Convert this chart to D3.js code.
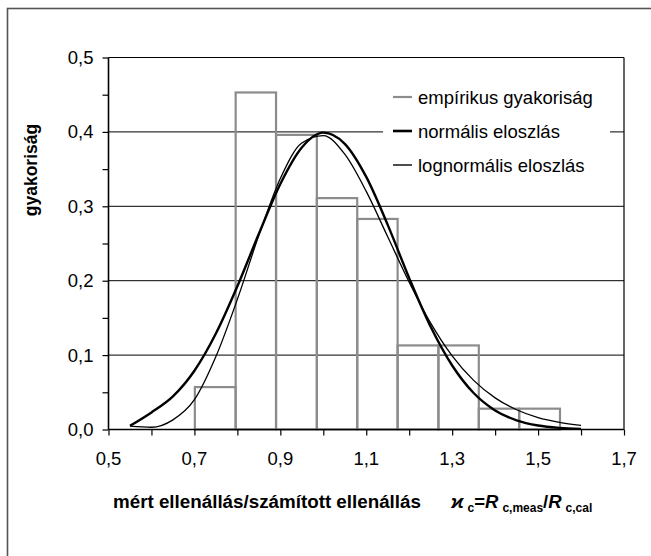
<!DOCTYPE html>
<html>
<head>
<meta charset="utf-8">
<script src="https://cdn.jsdelivr.net/npm/d3@7"></script>
<style>
  html, body { margin: 0; padding: 0; background: #fff; }
  svg { display: block; font-family: "Liberation Sans", Arial, sans-serif; }
</style>
</head>
<body>
<svg id="chart" width="651" height="556"></svg>
<script>
// Histogram bin edges and relative frequencies (empírikus gyakoriság)
const binEdges = [0.701, 0.796, 0.890, 0.985, 1.079, 1.173, 1.268, 1.362, 1.456, 1.551];
const binValues = [0.057, 0.453, 0.396, 0.311, 0.283, 0.113, 0.113, 0.028, 0.028];

// Fitted curves sampled along the x axis
const curveX = [0.55, 0.60, 0.65, 0.70, 0.75, 0.80, 0.85, 0.90, 0.95, 1.00, 1.05,
                1.10, 1.15, 1.20, 1.25, 1.30, 1.35, 1.40, 1.45, 1.50, 1.55, 1.60];
const normalY = [0.005, 0.023, 0.0445, 0.079, 0.129, 0.1925, 0.263, 0.330, 0.379, 0.399, 0.384,
                 0.3395, 0.275, 0.2035, 0.138, 0.086, 0.049, 0.0256, 0.0123, 0.0054, 0.0022, 0.0008];
const lognormalY = [0.0045, 0.003, 0.013, 0.040, 0.098, 0.175, 0.261, 0.3375, 0.385, 0.395, 0.370,
                    0.320, 0.259, 0.198, 0.143, 0.099, 0.066, 0.0425, 0.0265, 0.016, 0.0096, 0.0056];

// Axis ticks
const xTicks = [0.5, 0.6, 0.7, 0.8, 0.9, 1.0, 1.1, 1.2, 1.3, 1.4, 1.5, 1.6, 1.7];
const xTickLabels = [0.5, 0.7, 0.9, 1.1, 1.3, 1.5, 1.7];
const yTicks = [0, 0.05, 0.1, 0.15, 0.2, 0.25, 0.3, 0.35, 0.4, 0.45, 0.5];
const yTickLabels = [0, 0.1, 0.2, 0.3, 0.4, 0.5];
const gridValues = [0.1, 0.2, 0.3, 0.4, 0.5];

const legendItems = [
  { label: "empírikus gyakoriság", color: "#8c8c8c", width: 2.2 },
  { label: "normális eloszlás", color: "#000", width: 2.6 },
  { label: "lognormális eloszlás", color: "#000", width: 1.4 }
];

const svg = d3.select("#chart");
const fmt = v => d3.format(".1f")(v).replace(".", ",");

const x = d3.scaleLinear().domain([0.5, 1.7]).range([108.5, 624]);
const y = d3.scaleLinear().domain([0, 0.5]).range([429.5, 57.5]);

// Outer frame of the figure
svg.append("rect")
  .attr("x", 7.5).attr("y", 8.5)
  .attr("width", 700).attr("height", 600)
  .attr("fill", "none").attr("stroke", "#555").attr("stroke-width", 1.6);

// Horizontal gridlines
svg.append("g").selectAll("line").data(gridValues).join("line")
  .attr("x1", x(0.5)).attr("x2", x(1.7))
  .attr("y1", d => y(d)).attr("y2", d => y(d))
  .attr("stroke", "#000").attr("stroke-width", 1);

// Right border of the plot area
svg.append("line")
  .attr("x1", x(1.7)).attr("x2", x(1.7))
  .attr("y1", y(0.5)).attr("y2", y(0))
  .attr("stroke", "#000").attr("stroke-width", 1.2);

// Histogram bars (outline only)
svg.append("g").selectAll("rect").data(binValues).join("rect")
  .attr("x", (d, i) => x(binEdges[i]))
  .attr("width", (d, i) => x(binEdges[i + 1]) - x(binEdges[i]))
  .attr("y", d => y(d))
  .attr("height", d => y(0) - y(d))
  .attr("fill", "none")
  .attr("stroke", "#8c8c8c")
  .attr("stroke-width", 2.2);

// Fitted curves
const line = d3.line().x(d => x(d[0])).y(d => y(d[1])).curve(d3.curveMonotoneX);
svg.append("path")
  .datum(curveX.map((v, i) => [v, lognormalY[i]]))
  .attr("d", line).attr("fill", "none")
  .attr("stroke", "#000").attr("stroke-width", 1.3);
svg.append("path")
  .datum(curveX.map((v, i) => [v, normalY[i]]))
  .attr("d", line).attr("fill", "none")
  .attr("stroke", "#000").attr("stroke-width", 2.4);

// Axes
const xAxis = d3.axisBottom(x).tickValues(xTicks).tickSize(6).tickFormat("");
const gx = svg.append("g").attr("transform", `translate(0,${y(0)})`).call(xAxis);
gx.select(".domain").attr("stroke-width", 1.6).attr("d", `M${x(0.5)},0H${x(1.7)}`);
gx.selectAll(".tick line").attr("stroke-width", 1.2);

svg.append("g").selectAll("text").data(xTickLabels).join("text")
  .attr("x", d => x(d)).attr("y", y(0) + 35.5)
  .attr("text-anchor", "middle")
  .attr("font-size", 18.5)
  .attr("fill", "#000")
  .text(fmt);

const yAxis = d3.axisLeft(y).tickValues(yTicks).tickSize(6).tickFormat("");
const gy = svg.append("g").attr("transform", `translate(${x(0.5)},0)`).call(yAxis);
gy.select(".domain").attr("stroke-width", 1.6).attr("d", `M0,${y(0)}V${y(0.5)}`);
gy.selectAll(".tick line").attr("stroke-width", 1.2);

svg.append("g").selectAll("text").data(yTickLabels).join("text")
  .attr("x", x(0.5) - 15).attr("y", d => y(d) + 6.5)
  .attr("text-anchor", "end")
  .attr("font-size", 18.5)
  .attr("fill", "#000")
  .text(fmt);

// Axis titles
svg.append("text")
  .attr("transform", "translate(37,170) rotate(-90)")
  .attr("text-anchor", "middle")
  .attr("font-size", 17.5)
  .attr("font-weight", "bold")
  .text("gyakoriság");

svg.append("text")
  .attr("x", 113).attr("y", 508)
  .attr("font-size", 18.8)
  .attr("font-weight", "bold")
  .text("mért ellenállás/számított ellenállás");

const formula = svg.append("text")
  .attr("x", 451).attr("y", 508)
  .attr("font-size", 18.5)
  .attr("font-weight", "bold");
formula.append("tspan").attr("font-style", "italic").text("ϰ");
formula.append("tspan").attr("font-size", 12).attr("dx", 4).attr("dy", 4).text("c");
formula.append("tspan").attr("dy", -4).text("=");
formula.append("tspan").attr("font-style", "italic").text("R");
formula.append("tspan").attr("font-size", 12).attr("dx", 4).attr("dy", 4).text("c,meas");
formula.append("tspan").attr("dy", -4).text("/");
formula.append("tspan").attr("font-style", "italic").text("R");
formula.append("tspan").attr("font-size", 12).attr("dx", 4).attr("dy", 4).text("c,cal");

// Legend
const legend = svg.append("g");
legend.append("rect")
  .attr("x", 383).attr("y", 76).attr("width", 227).attr("height", 106)
  .attr("fill", "#fff");
const rows = legend.selectAll("g").data(legendItems).join("g")
  .attr("transform", (d, i) => `translate(393,${97 + i * 34})`);
rows.append("line")
  .attr("x1", 0).attr("x2", 19)
  .attr("stroke", d => d.color).attr("stroke-width", d => d.width);
rows.append("text")
  .attr("x", 25).attr("y", 6.5)
  .attr("font-size", 18.5)
  .text(d => d.label);
</script>
</body>
</html>
